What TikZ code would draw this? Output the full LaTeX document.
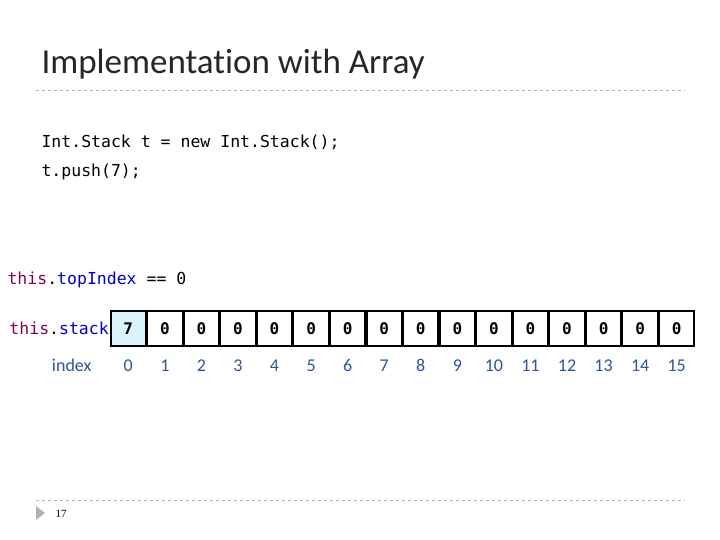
\documentclass[tikz,border=0pt]{standalone}
\usepackage{fontspec}
\setmainfont[Ligatures=NoCommon]{Carlito}
\setmonofont{DejaVu Sans Mono}
\newfontfamily\numfont{Liberation Serif}
\usetikzlibrary{positioning}
\definecolor{kwpurple}{HTML}{7F0055}
\definecolor{fieldblue}{HTML}{0000C0}
\definecolor{idxblue}{HTML}{2F5597}
\begin{document}
\begin{tikzpicture}[x=1pt, y=-1pt,
    cell/.style={draw=black, line width=1.6pt, minimum width=35pt, minimum height=35.4pt, inner sep=0pt, font=\ttfamily\bfseries\fontsize{16}{16}\selectfont},
    idx/.style={text=idxblue, anchor=base, font=\fontsize{18}{18}\selectfont},
    code/.style={anchor=west, font=\ttfamily\fontsize{16.5}{18}\selectfont},
    rule/.style={gray!60, dashed, line width=0.8pt}
]
\useasboundingbox (0,0) rectangle (720,540);

% Title
\node[anchor=west, font=\fontsize{35}{35}\selectfont, text=black!85] (title) at (38,64) {Implementation with Array};
\draw[rule] (36,90) -- (685,90);

% Code
\node[code] (line1) at (38,142) {Int.Stack t = new Int.Stack();};
\node[code] (line2) at (38,172) {t.push(7);};

\node[code] (top) at (4,280) {\textcolor{kwpurple}{this}.\textcolor{fieldblue}{topIndex} == 0};

% Array
\foreach \i in {0,...,15} {
  \node[cell] (c\i) at ({128.3+36.56*\i},328.5) {0};
  \node[idx] (i\i) at (c\i |- 0,371) {\i};
}
\node[cell, fill=cyan!15] (c0) at (128.3,328.5) {7};
\node[code, anchor=east, inner sep=1pt] (stack) at (c0.west) {\textcolor{kwpurple}{this}.\textcolor{fieldblue}{stack}};
\node[idx, anchor=base east] (index) at (95,371) {index};

% Footer
\draw[rule] (36,500) -- (685,500);
\fill[gray!60] (36,506) -- (45,513) -- (36,520) -- cycle;
\node[font=\numfont\fontsize{11}{11}\selectfont] (page) at (61,514) {17};
\end{tikzpicture}
\end{document}
